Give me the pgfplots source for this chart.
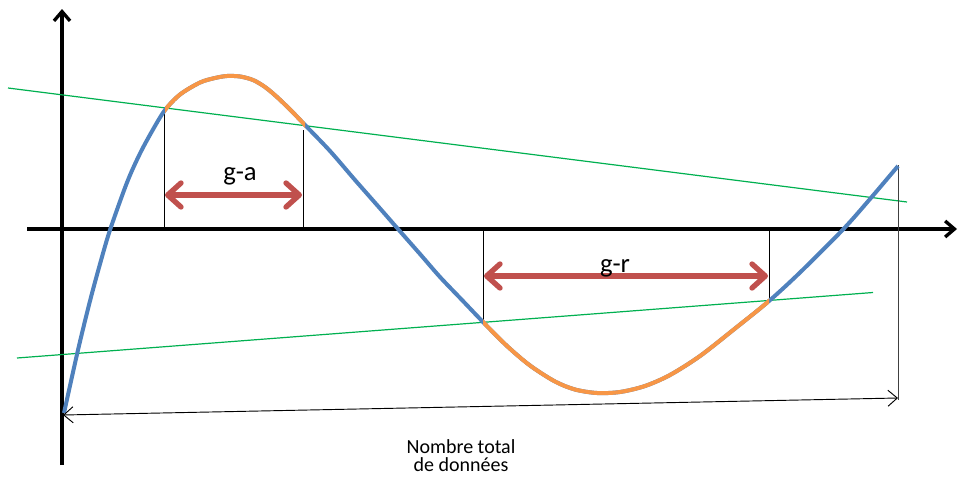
\documentclass[border=0pt]{standalone}
\usepackage{fontspec}
\setmainfont{Carlito}
\usepackage{pgfplots}
\pgfplotsset{compat=1.18}
\usetikzlibrary{arrows.meta}

\definecolor{cblue}{HTML}{4F81BD}
\definecolor{corange}{HTML}{F79646}
\definecolor{cgreen}{HTML}{00B050}
\definecolor{cred}{HTML}{C0504D}

% the curve, in picture pixels (y downwards)
\pgfplotstableread{
x y
64 413
78 350
90 301
100 264
110 230
127 182.5
140 153.5
153 129.5
165 110
180 94.5
200 82.5
215 78
227 76
240 76.5
253 80
265 87
277 97
291 110.5
305 125
330 151
355 180
377 205
398 229
420 254
440 277
462 300
483 322
507 346
530 365.5
555 381.5
575 389.5
597 393
620 392
645 386
670 375
700 356
735 328.5
769 301
800 272.5
843 229.5
870 199
898 166
}\curve

\begin{document}
\begin{tikzpicture}
	\begin{axis}[
		scale only axis,
		width=720pt, height=357pt,
		xmin=0, xmax=960, ymin=0, ymax=476,
		y dir=reverse,
		hide axis,
		clip=false,
		]
		\path (axis cs:0,0) rectangle (axis cs:960,476);

		% axes
		\draw[line width=3pt, -{Straight Barb[length=7pt,width=12pt,line width=2.5pt]}]
			(axis cs:62,465) -- (axis cs:62,9);
		\draw[line width=3pt, -{Straight Barb[length=7pt,width=12pt,line width=2.5pt]}]
			(axis cs:27,229) -- (axis cs:957,229);

		% green secant lines
		\addplot[color=cgreen, line width=0.9pt] coordinates {(8,88) (907,202)};
		\addplot[color=cgreen, line width=0.9pt] coordinates {(17,358) (873,292.5)};

		% thin vertical markers
		\addplot[black, line width=0.7pt] coordinates {(164,108) (164,229)};
		\addplot[black, line width=0.7pt] coordinates {(303,130) (303,229)};
		\addplot[black, line width=0.7pt] coordinates {(483,229) (483,322)};
		\addplot[black, line width=0.7pt] coordinates {(769,229) (769,301)};
		\addplot[black!75, line width=0.7pt] coordinates {(898,165) (898,400)};

		% curve, orange where it lies above/below the secants
		\addplot[color=cblue, line width=3pt, smooth] table {\curve};
		\begin{scope}
			\clip (axis cs:165,0) rectangle (axis cs:305,476);
			\addplot[color=corange, line width=3pt, smooth] table {\curve};
		\end{scope}
		\begin{scope}
			\clip (axis cs:483,0) rectangle (axis cs:769,476);
			\addplot[color=corange, line width=3pt, smooth] table {\curve};
		\end{scope}

		% total length arrow
		\draw[black, line width=0.7pt, {Straight Barb[length=7pt,width=12pt]}-{Straight Barb[length=7pt,width=12pt]}]
			(axis cs:898,398) -- (axis cs:63,415);
		\node[font=\fontsize{15}{13.5}\selectfont, align=center] at (axis cs:461,456)
			{Nombre total\\de données};

		% gaps
		\draw[cred, line width=4pt, line cap=round,
			{Straight Barb[length=10pt,width=18pt,line width=4pt,round]}-{Straight Barb[length=10pt,width=18pt,line width=4pt,round]}]
			(axis cs:165,195) -- (axis cs:302,195);
		\draw[cred, line width=4pt, line cap=round,
			{Straight Barb[length=10pt,width=18pt,line width=4pt,round]}-{Straight Barb[length=10pt,width=18pt,line width=4pt,round]}]
			(axis cs:484,276) -- (axis cs:768,276);
		\node[font=\fontsize{20}{24}\selectfont, anchor=base] at (axis cs:240,180) {g-a};
		\node[font=\fontsize{20}{24}\selectfont, anchor=base] at (axis cs:615,272) {g-r};
	\end{axis}
\end{tikzpicture}
\end{document}
